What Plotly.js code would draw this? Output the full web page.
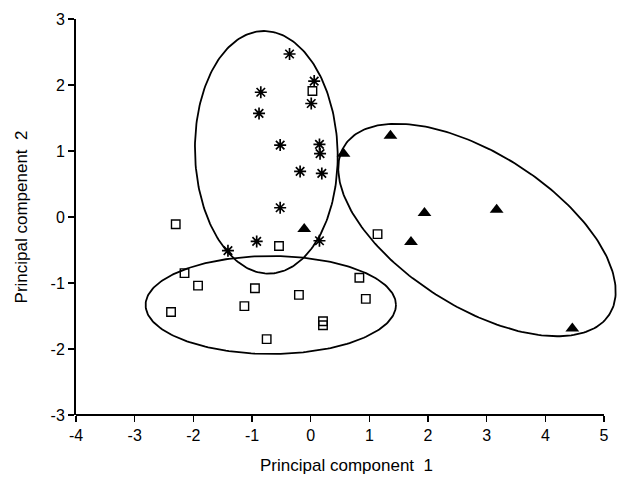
<!DOCTYPE html>
<html>
<head>
<meta charset="utf-8">
<script src="https://cdn.plot.ly/plotly-3.0.1.min.js"></script>
<style>html,body{margin:0;padding:0;background:#fff;}#chart{width:617px;height:477px;}</style>
</head>
<body>
<div id="chart"></div>
<script>
// Group A (asterisks)
var starX = [-0.36, 0.06, -0.85, 0.01, -0.88, -0.52, 0.15, 0.16, -0.18, 0.19, -0.52, -0.92, -1.41, 0.15];
var starY = [2.47, 2.06, 1.89, 1.72, 1.57, 1.09, 1.10, 0.96, 0.69, 0.66, 0.14, -0.37, -0.51, -0.36];
// Group B (open squares)
var sqX = [0.03, -2.30, -0.54, 1.14, -2.15, -1.92, -2.38, -0.95, -1.13, -0.75, -0.20, 0.21, 0.21, 0.83, 0.94];
var sqY = [1.91, -0.11, -0.44, -0.26, -0.85, -1.04, -1.44, -1.08, -1.35, -1.85, -1.18, -1.58, -1.64, -0.92, -1.24];
// Group C (filled triangles)
var triX = [1.36, 0.56, -0.11, 1.94, 3.17, 1.71, 4.46];
var triY = [1.23, 0.96, -0.18, 0.06, 0.11, -0.38, -1.69];

// Ellipses: centre and two conjugate half-axis vectors (data units)
var ellCX = [-0.756, -0.68, 2.835];
var ellCY = [0.98, -1.333, -0.197];
var ellU = [[1.216, 0], [2.134, 0], [2.258, -1.279]];
var ellV = [[-0.04, 1.838], [0, 0.742], [-0.701, -0.978]];

// Axis ticks
var xTicks = [-4, -3, -2, -1, 0, 1, 2, 3, 4, 5];
var yTicks = [-3, -2, -1, 0, 1, 2, 3];

var traces = [];
for (var k = 0; k < ellCX.length; k++) {
  var ex = [], ey = [];
  for (var i = 0; i <= 240; i++) {
    var t = 2 * Math.PI * i / 240;
    ex.push(ellCX[k] + ellU[k][0] * Math.cos(t) + ellV[k][0] * Math.sin(t));
    ey.push(ellCY[k] + ellU[k][1] * Math.cos(t) + ellV[k][1] * Math.sin(t));
  }
  traces.push({x: ex, y: ey, mode: 'lines', line: {color: '#000', width: 1.8}, hoverinfo: 'skip', showlegend: false});
}
traces.push({x: starX, y: starY, mode: 'markers', showlegend: false,
  marker: {symbol: 'asterisk-open', size: 10, color: '#000', line: {color: '#000', width: 1.7}}});
traces.push({x: sqX, y: sqY, mode: 'markers', showlegend: false,
  marker: {symbol: 'square-open', size: 8.5, color: '#000', line: {color: '#000', width: 1.4}}});
traces.push({x: triX, y: triY, mode: 'markers', showlegend: false,
  marker: {symbol: 'triangle-up', size: 12, color: '#000', line: {width: 0}}});

var fontFam = 'Liberation Sans, Arial, sans-serif';
var layout = {
  width: 617, height: 477,
  margin: {l: 76, r: 0, t: 19, b: 62},
  paper_bgcolor: '#fff', plot_bgcolor: '#fff',
  font: {family: fontFam, color: '#000', size: 16},
  xaxis: {
    range: [-4, 5 + 13 / 58.67], tickvals: xTicks,
    ticktext: xTicks.map(String),
    showline: false,
    ticks: 'outside', ticklen: 6, tickwidth: 1.5, tickcolor: '#000',
    showgrid: false, zeroline: false, tickfont: {size: 16},
    title: {text: 'Principal component&nbsp; 1', font: {size: 17}, standoff: 15}
  },
  yaxis: {
    range: [-3, 3], tickvals: yTicks,
    ticktext: yTicks.map(String),
    showline: true, linecolor: '#000', linewidth: 2, mirror: false,
    ticks: 'outside', ticklen: 6, tickwidth: 1.5, tickcolor: '#000',
    showgrid: false, zeroline: false, tickfont: {size: 16},
    title: {text: 'Principal compenent&nbsp; 2', font: {size: 17}, standoff: 19}
  },
  shapes: [{type: 'line', xref: 'x', yref: 'paper', x0: xTicks[0], x1: xTicks[xTicks.length - 1], y0: 0, y1: 0,
            line: {color: '#000', width: 2}, layer: 'above'}]
};
Plotly.newPlot('chart', traces, layout, {displayModeBar: false, staticPlot: true});
</script>
</body>
</html>
